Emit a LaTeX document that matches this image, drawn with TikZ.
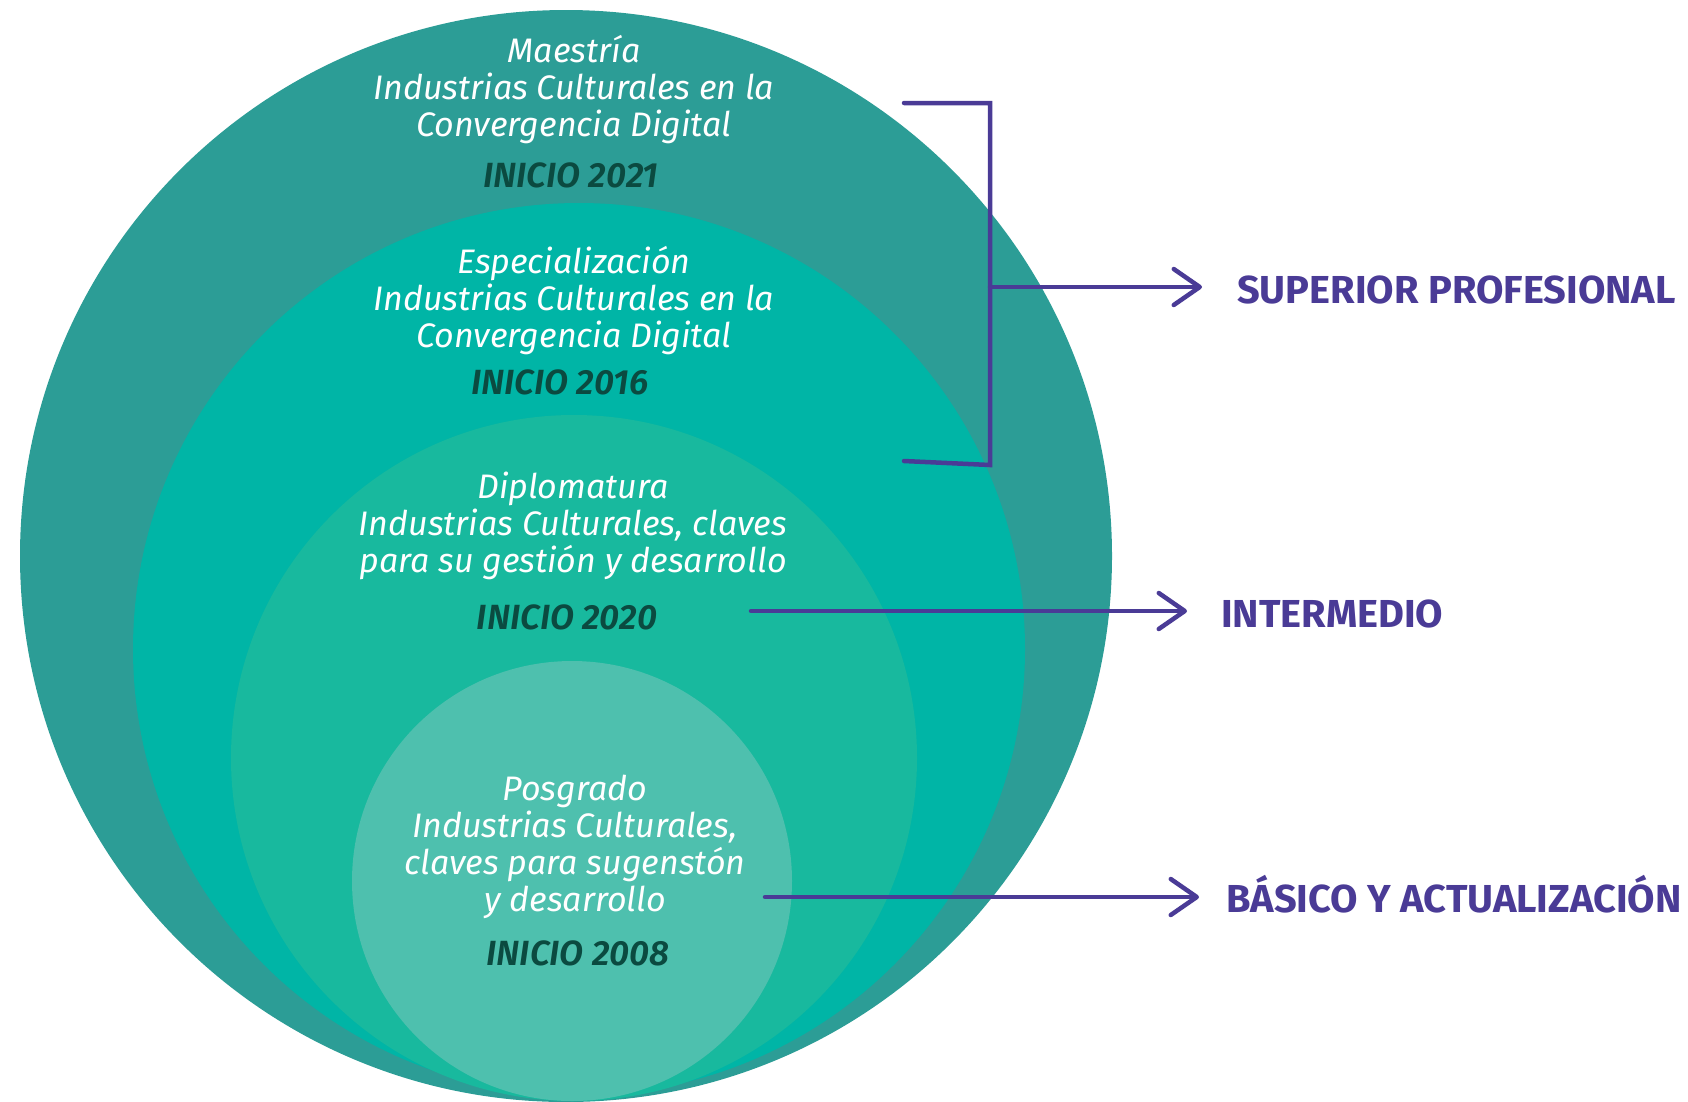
\documentclass[tikz,border=0pt]{standalone}
\usepackage{fontspec}
\setmainfont{Fira Sans}
\newfontfamily\nivelfont{Fira Sans}[FakeStretch=1.02]
\newfontfamily\iniciofont{Fira Sans}[BoldItalicFont={* SemiBold Italic}]
\usepackage{xcolor}
\usepackage{tikz}
\usetikzlibrary{arrows.meta, positioning}

\definecolor{ringA}{HTML}{2C9D96}
\definecolor{ringB}{HTML}{00B5A6}
\definecolor{ringC}{HTML}{18B99E}
\definecolor{ringD}{HTML}{4EC0AE}
\definecolor{inicioGreen}{HTML}{0B4A40}
\definecolor{nivelPurple}{HTML}{4A3B96}

\begin{document}
\begin{tikzpicture}[x=1pt, y=-1pt,
    prog/.style={text=white, font=\itshape\fontsize{34}{37}\selectfont, align=center, inner sep=0pt, anchor=base},
    inicio/.style={text=inicioGreen, font=\iniciofont\bfseries\itshape\fontsize{35}{37}\selectfont, inner sep=0pt, anchor=base},
    nivel/.style={text=nivelPurple, font=\nivelfont\bfseries\fontsize{39}{45}\selectfont, inner sep=0pt, anchor=base west},
    brace/.style={draw=nivelPurple, line width=4.5pt, line cap=round},
    arr/.style={brace, -{Straight Barb[length=26pt, width=36pt, round]}}]
    \useasboundingbox (0,0) rectangle (1688,1101);

    % Circles, outer to inner
    \foreach \cx/\cy/\r/\col in {566/556/546/ringA, 579/649/446/ringB, 574/758/343/ringC, 572/881/220/ringD}
    {
        \fill[\col] (\cx,\cy) circle[radius=\r pt];
    }

    % Programs (base = last line)
    \node[prog] (maes) at (574,136) {Maestría\\Industrias Culturales en la\\Convergencia Digital};
    \node[inicio] (maesini) at (571,187) {INICIO 2021};
    \node[prog] (espe) at (574,347) {Especialización\\Industrias Culturales en la\\Convergencia Digital};
    \node[inicio] (espeini) at (560,394) {INICIO 2016};
    \node[prog] (dipl) at (573,572) {Diplomatura\\Industrias Culturales, claves\\para su gestión y desarrollo};
    \node[inicio] (diplini) at (567,629) {INICIO 2020};
    \node[prog] (posg) at (575,911) {Posgrado\\Industrias Culturales,\\claves para sugenstón\\y desarrollo};
    \node[inicio] (posgini) at (578,965) {INICIO 2008};

    % Levels
    \node[nivel] (sup) at (1237,303) {SUPERIOR PROFESIONAL};
    \node[nivel] (inter) at (1221,627) {INTERMEDIO};
    \node[nivel] (basic) at (1226,912) {BÁSICO Y ACTUALIZACIÓN};

    % Bracket and arrows
    \coordinate (brtl) at (904,103);
    \coordinate (brtr) at (990,103);
    \coordinate (brbr) at (990,465);
    \coordinate (brbl) at (904,461);
    \coordinate (brmid) at (990,287);
    \coordinate (interstart) at (751,611);
    \coordinate (basicstart) at (765,897);
    \draw[brace] (brtl) -- (brtr) -- (brbr) -- (brbl);
    \draw[arr, shorten >=35pt] (brmid) -- (brmid -| sup.west);
    \draw[arr, shorten >=34pt] (interstart) -- (interstart -| inter.west);
    \draw[arr, shorten >=27pt] (basicstart) -- (basicstart -| basic.west);
\end{tikzpicture}
\end{document}
